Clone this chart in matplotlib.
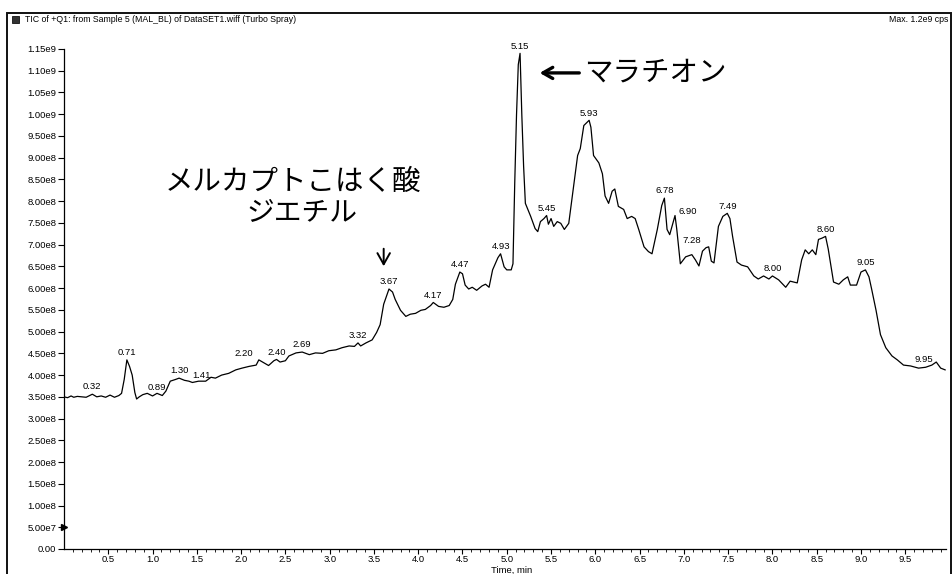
import numpy as np
import matplotlib
matplotlib.use("Agg")
import matplotlib.pyplot as plt
from matplotlib.patches import Rectangle

plt.rcParams['font.family'] = ['Liberation Sans', 'Noto Sans CJK JP', 'DejaVu Sans']

# retention time (min) and total ion current (x 1e8 cps)
time_min = [0.00, 0.04, 0.08, 0.11, 0.15, 0.20, 0.25, 0.32, 0.37, 0.42,
            0.47, 0.52, 0.57, 0.62, 0.65, 0.68, 0.71, 0.74, 0.77, 0.80,
            0.82, 0.85, 0.89, 0.94, 1.00, 1.05, 1.11, 1.15, 1.20, 1.26,
            1.30, 1.36, 1.41, 1.45, 1.52, 1.60, 1.66, 1.71, 1.78, 1.86,
            1.94, 2.01, 2.09, 2.17, 2.20, 2.26, 2.31, 2.37, 2.40, 2.44,
            2.50, 2.54, 2.62, 2.69, 2.77, 2.84, 2.92, 2.99, 3.07, 3.14,
            3.22, 3.28, 3.32, 3.35, 3.41, 3.48, 3.53, 3.57, 3.61, 3.67,
            3.71, 3.74, 3.80, 3.86, 3.91, 3.97, 4.03, 4.08, 4.14, 4.17,
            4.23, 4.29, 4.35, 4.39, 4.42, 4.47, 4.50, 4.53, 4.57, 4.61,
            4.66, 4.72, 4.76, 4.80, 4.84, 4.90, 4.93, 4.97, 5.00, 5.05,
            5.07, 5.09, 5.11, 5.13, 5.15, 5.17, 5.19, 5.21, 5.27, 5.32,
            5.35, 5.38, 5.42, 5.45, 5.47, 5.50, 5.53, 5.57, 5.61, 5.65,
            5.70, 5.76, 5.80, 5.83, 5.87, 5.93, 5.95, 5.98, 6.04, 6.08,
            6.11, 6.15, 6.19, 6.22, 6.26, 6.32, 6.36, 6.41, 6.45, 6.49,
            6.55, 6.60, 6.64, 6.70, 6.75, 6.78, 6.81, 6.84, 6.90, 6.92,
            6.96, 7.02, 7.09, 7.13, 7.17, 7.21, 7.25, 7.28, 7.31, 7.34,
            7.39, 7.44, 7.49, 7.52, 7.55, 7.60, 7.65, 7.72, 7.79, 7.84,
            7.90, 7.96, 8.00, 8.07, 8.15, 8.20, 8.28, 8.33, 8.37, 8.41,
            8.45, 8.49, 8.52, 8.56, 8.60, 8.63, 8.69, 8.75, 8.80, 8.85,
            8.88, 8.95, 9.00, 9.05, 9.09, 9.12, 9.17, 9.22, 9.28, 9.35,
            9.41, 9.48, 9.56, 9.65, 9.73, 9.80, 9.85, 9.90, 9.95]
tic_e8 = [3.50, 3.48, 3.52, 3.49, 3.51, 3.50, 3.49, 3.56, 3.50, 3.52,
          3.49, 3.54, 3.49, 3.53, 3.58, 3.90, 4.35, 4.20, 4.00, 3.60,
          3.45, 3.50, 3.55, 3.58, 3.52, 3.58, 3.53, 3.63, 3.86, 3.90,
          3.93, 3.88, 3.86, 3.83, 3.86, 3.86, 3.95, 3.93, 4.00, 4.04,
          4.12, 4.16, 4.20, 4.23, 4.35, 4.28, 4.22, 4.33, 4.36, 4.30,
          4.33, 4.44, 4.51, 4.53, 4.47, 4.51, 4.50, 4.56, 4.58, 4.63,
          4.67, 4.66, 4.74, 4.67, 4.74, 4.81, 4.98, 5.16, 5.63, 5.98,
          5.91, 5.74, 5.49, 5.35, 5.40, 5.42, 5.49, 5.51, 5.60, 5.67,
          5.58, 5.56, 5.60, 5.74, 6.09, 6.37, 6.33, 6.07, 5.98, 6.02,
          5.95, 6.05, 6.09, 6.02, 6.42, 6.70, 6.79, 6.49, 6.42, 6.42,
          6.56, 8.42, 9.98, 11.14, 11.40, 9.98, 8.81, 7.95, 7.65, 7.37,
          7.30, 7.53, 7.60, 7.67, 7.47, 7.60, 7.42, 7.53, 7.49, 7.35,
          7.49, 8.42, 9.05, 9.21, 9.74, 9.86, 9.70, 9.05, 8.88, 8.63,
          8.12, 7.95, 8.23, 8.28, 7.88, 7.81, 7.60, 7.65, 7.60, 7.35,
          6.95, 6.84, 6.79, 7.35, 7.90, 8.07, 7.35, 7.23, 7.67, 7.35,
          6.56, 6.72, 6.77, 6.65, 6.51, 6.85, 6.93, 6.95, 6.62, 6.58,
          7.42, 7.65, 7.72, 7.60, 7.19, 6.60, 6.53, 6.49, 6.28, 6.21,
          6.28, 6.21, 6.28, 6.19, 6.02, 6.16, 6.12, 6.65, 6.88, 6.79,
          6.88, 6.77, 7.12, 7.15, 7.19, 6.90, 6.14, 6.09, 6.19, 6.26,
          6.07, 6.07, 6.37, 6.42, 6.26, 5.98, 5.49, 4.93, 4.63, 4.44,
          4.35, 4.23, 4.21, 4.16, 4.18, 4.23, 4.30, 4.16, 4.12]

# retention times printed above the peaks
peak_labels = ["0.32", "0.71", "0.89", "1.30", "1.41", "2.20", "2.40", "2.69",
               "3.32", "3.67", "4.17", "4.47", "4.93", "5.15", "5.45", "5.93",
               "6.78", "6.90", "7.28", "7.49", "8.00", "8.60", "9.05", "9.95"]

y_ticks = np.arange(0, 1.16e9, 0.5e8)
y_tick_labels = ["0.00", "5.00e7", "1.00e8", "1.50e8", "2.00e8", "2.50e8",
                 "3.00e8", "3.50e8", "4.00e8", "4.50e8", "5.00e8", "5.50e8",
                 "6.00e8", "6.50e8", "7.00e8", "7.50e8", "8.00e8", "8.50e8",
                 "9.00e8", "9.50e8", "1.00e9", "1.05e9", "1.10e9", "1.15e9"]
x_ticks = [0.5, 1.0, 1.5, 2.0, 2.5, 3.0, 3.5, 4.0, 4.5, 5.0,
           5.5, 6.0, 6.5, 7.0, 7.5, 8.0, 8.5, 9.0, 9.5]

t = np.array(time_min)
tic = np.array(tic_e8) * 1e8

W, H = 953, 574
fig = plt.figure(figsize=(W / 100, H / 100), dpi=100)
fig.patch.set_facecolor("white")

# outer frame and header line
fig.add_artist(Rectangle((7 / W, -0.02), 944 / W, 1.02 - 13 / H,
                         transform=fig.transFigure, fill=False,
                         edgecolor="#111111", lw=1.4))
fig.add_artist(Rectangle((12 / W, 1 - 23 / H), 7 / W, 7 / H,
                         transform=fig.transFigure, facecolor="#333333",
                         edgecolor="#111111", lw=0.6))
fig.text(25 / W, 1 - 20 / H,
         "TIC of +Q1: from Sample 5 (MAL_BL) of DataSET1.wiff (Turbo Spray)",
         fontsize=6.3, va="center", ha="left")
fig.text(948 / W, 1 - 20 / H, "Max. 1.2e9 cps", fontsize=6.3,
         va="center", ha="right")

ax = fig.add_axes([64 / W, 25 / H, 882 / W, 500 / H])
ax.plot(t, tic, color="black", lw=0.9)

ax.set_xlim(0, 9.96)
ax.set_ylim(0, 1.15e9)
for side in ("top", "right"):
    ax.spines[side].set_visible(False)
for side in ("left", "bottom"):
    ax.spines[side].set_linewidth(0.9)

ax.set_yticks(y_ticks)
ax.set_yticklabels(y_tick_labels)
ax.set_xticks(x_ticks)
ax.set_xticklabels([f"{v:.1f}" for v in x_ticks])
ax.set_xticks(np.arange(0.1, 9.95, 0.1), minor=True)
ax.tick_params(axis="both", labelsize=6.8, direction="out", width=0.8)
ax.tick_params(axis="y", length=4, pad=1.5)
ax.tick_params(axis="x", which="major", length=3.5, pad=1)
ax.tick_params(axis="x", which="minor", length=2, width=0.6)
ax.set_xlabel("Time, min", fontsize=6.8, labelpad=0)
ax.xaxis.set_label_coords(0.507, -0.034)

# baseline marker on the intensity axis
ax.plot(0, 0.5e8, marker=">", ms=4, color="black", clip_on=False)

# peak retention-time labels; a few are pushed sideways to avoid overlap
nudge = {"0.89": (10, 2), "1.41": (9, 1), "2.20": (-11, 1),
         "6.90": (9, 0), "7.28": (-12, 1), "9.95": (-15, 4)}
for lab in peak_labels:
    rt = float(lab)
    level = np.interp(rt, t, tic)
    dx, dy = nudge.get(lab, (0, 2))
    ax.annotate(lab, xy=(rt, level), xytext=(dx, dy),
                textcoords="offset points", ha="center", va="bottom",
                fontsize=6.8, annotation_clip=False)

# compound annotations
ax.text(2.585, 8.44e8, "メルカプトこはく酸", fontsize=20.5,
        ha="center", va="center", family=["Noto Sans CJK JP"])
ax.text(2.69, 7.73e8, "ジエチル", fontsize=20,
        ha="center", va="center", family=["Noto Sans CJK JP"])
ax.annotate("", xy=(3.61, 6.44e8), xytext=(3.61, 6.97e8),
            arrowprops=dict(arrowstyle="->,head_length=0.8,head_width=0.45",
                            lw=1.4, color="black"))
ax.annotate("", xy=(5.34, 10.95e8), xytext=(5.85, 10.95e8),
            arrowprops=dict(arrowstyle="->,head_length=0.7,head_width=0.4",
                            lw=2.4, color="black"))
ax.text(5.87, 10.95e8, "マラチオン", fontsize=20.5,
        ha="left", va="center", family=["Noto Sans CJK JP"])

fig.savefig("out.png", dpi=100, facecolor="white")
